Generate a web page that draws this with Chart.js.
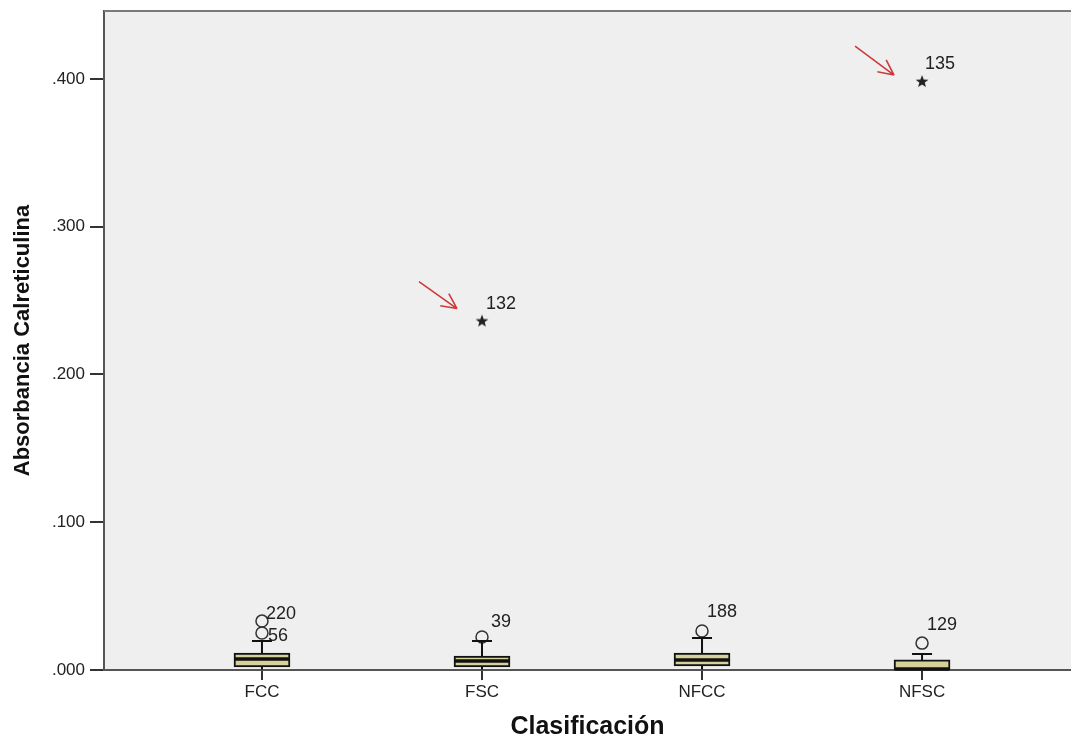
<!DOCTYPE html>
<html>
<head>
<meta charset="utf-8">
<script src="https://cdn.jsdelivr.net/npm/chart.js@4.4.1/dist/chart.umd.min.js"></script>
<style>
  html, body { margin: 0; padding: 0; background: #ffffff; overflow: hidden; }
  #wrap { width: 1071px; height: 737px; position: relative; }
</style>
</head>
<body>
<div id="wrap"><canvas id="c" width="1071" height="737"></canvas></div>
<script>
// ---------------- DATA ----------------
const categories   = ['FCC', 'FSC', 'NFCC', 'NFSC'];
const whiskerLow   = [0.0003, 0.0003, 0.0003, 0.0000];
const q1           = [0.0020, 0.0020, 0.0027, 0.0003];
const medians      = [0.0074, 0.0061, 0.0068, 0.0007];
const q3           = [0.0115, 0.0095, 0.0115, 0.0068];
const whiskerHigh  = [0.0196, 0.0196, 0.0216, 0.0108];

const outlierCat   = ['FCC', 'FCC', 'FSC', 'NFCC', 'NFSC'];
const outlierVal   = [0.0250, 0.0331, 0.0223, 0.0264, 0.0182];
const outlierId    = ['56', '220', '39', '188', '129'];

const extremeCat   = ['FSC', 'NFSC'];
const extremeVal   = [0.2365, 0.3986];
const extremeId    = ['132', '135'];

const yTicks       = [0.0, 0.1, 0.2, 0.3, 0.4];
const yAxisTitle   = 'Absorbancia Calreticulina';
const xAxisTitle   = 'Clasificación';

// ---------------- STYLE ----------------
const FONT = "'Liberation Sans', Arial, sans-serif";
const boxFill = '#d6d09b';
const plotBg = '#efefef';
const outlierLabelOffset = [[6, 3], [4, -7], [9, -15], [5, -19], [5, -18]];
const extremeLabelOffset = [[4, -17], [3, -17]];
const arrowOffset = [[-63, -39, -25, -12], [-67, -35, -28, -6]];

const catIndex = c => categories.indexOf(c) + 1;

// star point image
function makeStar(size, color) {
  const cv = document.createElement('canvas');
  cv.width = size; cv.height = size;
  const g = cv.getContext('2d');
  const cx = size / 2, cy = size / 2 + 0.7, R = size / 2 - 0.3, r = R * 0.42;
  g.beginPath();
  for (let i = 0; i < 10; i++) {
    const a = -Math.PI / 2 + i * Math.PI / 5;
    const rr = i % 2 === 0 ? R : r;
    const px = cx + rr * Math.cos(a), py = cy + rr * Math.sin(a);
    if (i === 0) g.moveTo(px, py); else g.lineTo(px, py);
  }
  g.closePath();
  g.fillStyle = color;
  g.fill();
  return cv;
}
const starImg = makeStar(14, '#222222');

const boxPlugin = {
  id: 'boxDecor',
  beforeDraw(chart) {
    const { ctx, chartArea: a } = chart;
    ctx.save();
    ctx.fillStyle = plotBg;
    ctx.fillRect(a.left, a.top, a.right - a.left, a.bottom - a.top);
    ctx.restore();
  },
  afterDatasetsDraw(chart) {
    const { ctx, chartArea: a } = chart;
    const xs = chart.scales.x, ys = chart.scales.y;
    ctx.save();
    // top border
    ctx.strokeStyle = '#7a7a7a';
    ctx.lineWidth = 2;
    ctx.beginPath();
    ctx.moveTo(a.left, a.top); ctx.lineTo(a.right, a.top);
    ctx.stroke();

    ctx.strokeStyle = '#111';
    categories.forEach((c, i) => {
      const x = xs.getPixelForValue(i + 1);
      const yLo = ys.getPixelForValue(whiskerLow[i]);
      const yQ1 = ys.getPixelForValue(q1[i]);
      const yQ3 = ys.getPixelForValue(q3[i]);
      const yHi = ys.getPixelForValue(whiskerHigh[i]);
      const yMd = ys.getPixelForValue(medians[i]);
      ctx.lineWidth = 2;
      ctx.beginPath();
      ctx.moveTo(x, yQ3); ctx.lineTo(x, yHi);
      ctx.moveTo(x, yQ1); ctx.lineTo(x, yLo);
      ctx.moveTo(x - 10, yHi); ctx.lineTo(x + 10, yHi);
      ctx.stroke();
      ctx.lineWidth = 3.5;
      ctx.beginPath();
      ctx.moveTo(x - 27, yMd); ctx.lineTo(x + 27, yMd);
      ctx.stroke();
    });

    // point labels
    ctx.fillStyle = '#222';
    ctx.font = '18px ' + FONT;
    ctx.textAlign = 'left';
    ctx.textBaseline = 'middle';
    outlierVal.forEach((v, i) => {
      const x = xs.getPixelForValue(catIndex(outlierCat[i]));
      const y = ys.getPixelForValue(v);
      ctx.fillText(outlierId[i], x + outlierLabelOffset[i][0], y + outlierLabelOffset[i][1]);
    });
    extremeVal.forEach((v, i) => {
      const x = xs.getPixelForValue(catIndex(extremeCat[i]));
      const y = ys.getPixelForValue(v);
      ctx.fillText(extremeId[i], x + extremeLabelOffset[i][0], y + extremeLabelOffset[i][1]);
      // red annotation arrow
      const o = arrowOffset[i];
      const x1 = x + o[0], y1 = y + o[1], x2 = x + o[2], y2 = y + o[3];
      ctx.strokeStyle = '#cc3b3b';
      ctx.lineWidth = 1.6;
      ctx.beginPath();
      ctx.moveTo(x1, y1); ctx.lineTo(x2, y2);
      const ang = Math.atan2(y2 - y1, x2 - x1);
      const L = 17;
      ctx.moveTo(x2, y2); ctx.lineTo(x2 - L * Math.cos(ang - 0.45), y2 - L * Math.sin(ang - 0.45));
      ctx.moveTo(x2, y2); ctx.lineTo(x2 - L * Math.cos(ang + 0.45), y2 - L * Math.sin(ang + 0.45));
      ctx.stroke();
    });
    ctx.restore();
  }
};

new Chart(document.getElementById('c'), {
  type: 'bar',
  data: {
    datasets: [
      {
        type: 'bar',
        label: 'box',
        data: categories.map((c, i) => ({ x: i + 1, y: [q1[i], q3[i]] })),
        backgroundColor: boxFill,
        borderColor: '#111',
        borderWidth: 2,
        borderSkipped: false,
        barThickness: 56,
        order: 3
      },
      {
        type: 'line',
        label: 'outliers',
        data: outlierVal.map((v, i) => ({ x: catIndex(outlierCat[i]), y: v })),
        showLine: false,
        pointStyle: 'circle',
        pointRadius: 6,
        pointBackgroundColor: 'rgba(0,0,0,0)',
        pointBorderColor: '#333',
        pointBorderWidth: 1.5,
        order: 1
      },
      {
        type: 'line',
        label: 'extremes',
        data: extremeVal.map((v, i) => ({ x: catIndex(extremeCat[i]), y: v })),
        showLine: false,
        pointStyle: starImg,
        pointRadius: 7,
        order: 1
      }
    ]
  },
  options: {
    responsive: false,
    animation: false,
    events: [],
    layout: { autoPadding: false, padding: { top: 11, left: 0, right: 0, bottom: 0 } },
    plugins: { legend: { display: false }, tooltip: { enabled: false } },
    scales: {
      x: {
        type: 'linear',
        min: 0.282,
        max: 4.677,
        offset: false,
        afterBuildTicks: s => { s.ticks = categories.map((c, i) => ({ value: i + 1 })); },
        afterFit: s => { s.height = 67; s.paddingLeft = 0; s.paddingRight = 0; },
        ticks: {
          callback: v => categories[Math.round(v) - 1],
          color: '#222',
          font: { family: FONT, size: 17 },
          padding: 2,
          maxRotation: 0,
          autoSkip: false
        },
        grid: { display: true, drawOnChartArea: false, drawTicks: true, tickLength: 10, color: '#333', lineWidth: 2, offset: false },
        border: { display: true, color: '#555', width: 2 },
        title: {
          display: true,
          text: xAxisTitle,
          color: '#111',
          font: { family: FONT, size: 25, weight: 'bold', lineHeight: 0.8 },
          padding: { top: 0, bottom: 0 }
        }
      },
      y: {
        type: 'linear',
        min: 0,
        max: 0.446,
        afterBuildTicks: s => { s.ticks = yTicks.map(v => ({ value: v })); },
        afterFit: s => { s.width = 104; s.paddingTop = 0; s.paddingBottom = 0; },
        ticks: {
          callback: v => '.' + Number(v).toFixed(3).slice(2),
          color: '#222',
          font: { family: FONT, size: 17 },
          padding: 5
        },
        grid: { display: true, drawOnChartArea: false, drawTicks: true, tickLength: 14, color: '#333', lineWidth: 2 },
        border: { display: true, color: '#555', width: 2 },
        title: {
          display: true,
          text: yAxisTitle,
          color: '#111',
          font: { family: FONT, size: 22, weight: 'bold', lineHeight: 1.2 },
          padding: { top: 10, bottom: 0 }
        }
      }
    }
  },
  plugins: [boxPlugin]
});
</script>
</body>
</html>
